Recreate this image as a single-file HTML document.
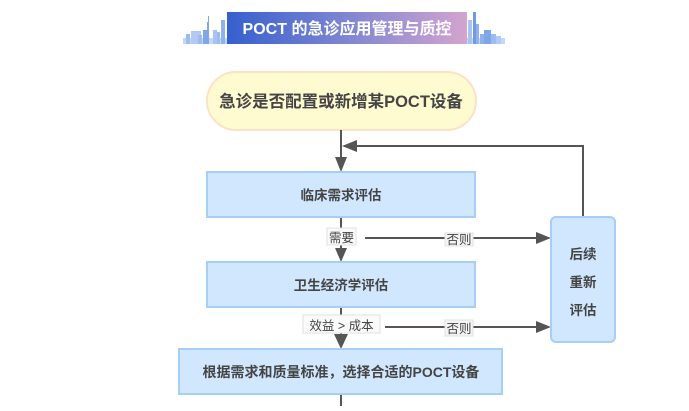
<!DOCTYPE html>
<html><head><meta charset="utf-8"><style>
html,body{margin:0;padding:0;background:#fff;}
body{width:689px;height:406px;overflow:hidden;}
svg text{font-family:"Liberation Sans","Noto Sans CJK SC",sans-serif;}
</style></head><body>
<svg width="689" height="406" viewBox="0 0 689 406" xmlns="http://www.w3.org/2000/svg">
<defs>
<linearGradient id="bg" x1="0" y1="0" x2="1" y2="0">
<stop offset="0" stop-color="#3560cf"/>
<stop offset="0.5" stop-color="#7f86d2"/>
<stop offset="1" stop-color="#d3a4cf"/>
</linearGradient>
</defs>
<!-- skyline left -->
<g fill="#9cbcef">
<rect x="183" y="38" width="44" height="6" fill="#c4d7f6"/>
<rect x="186" y="34" width="4" height="10"/>
<rect x="191" y="31" width="10" height="13" fill="#b2caf3"/>
<rect x="198" y="35" width="4" height="9"/>
<rect x="203" y="30" width="5" height="14" fill="#7ea6e8"/>
<rect x="207" y="22" width="2" height="22" fill="#7ea6e8"/>
<rect x="208" y="16" width="1" height="8" fill="#7ea6e8"/>
<rect x="213" y="30" width="4" height="14" fill="#aac4f2"/>
<rect x="217" y="32" width="3" height="12"/>
<rect x="221" y="20" width="4" height="24" fill="#8fb2ec"/>
</g>
<!-- skyline right -->
<g fill="#8fb2ec">
<rect x="467" y="38" width="38" height="6" fill="#c4d7f6"/>
<rect x="468" y="20" width="4" height="24" fill="#a9c4f2"/>
<rect x="473" y="12" width="3" height="32" fill="#6f9be6"/>
<rect x="476" y="24" width="3" height="20"/>
<rect x="480" y="34" width="4" height="10"/>
<rect x="484" y="30" width="7" height="14" fill="#7ea6e8"/>
<rect x="491" y="34" width="5" height="10" fill="#9cbcef"/>
<rect x="496" y="36" width="5" height="8" fill="#b2caf3"/>
</g>
<rect x="227" y="12" width="240" height="32" fill="url(#bg)"/>
<text x="347" y="34" text-anchor="middle" font-size="16" font-weight="bold" fill="#fff">POCT 的急诊应用管理与质控</text>

<!-- start pill -->
<rect x="207" y="72" width="269" height="58" rx="29" ry="29" fill="#fffbd1" stroke="#fbe2c6" stroke-width="2"/>
<text x="341" y="107" text-anchor="middle" font-size="16.5" font-weight="bold" fill="#444">急诊是否配置或新增某POCT设备</text>

<!-- connectors -->
<g stroke="#555" stroke-width="2" fill="none">
<line x1="341" y1="130" x2="341" y2="160"/>
<polyline points="583,217 583,146 354,146"/>
<line x1="341" y1="218" x2="341" y2="250"/>
<line x1="365" y1="238" x2="538" y2="238"/>
<line x1="341" y1="307" x2="341" y2="337"/>
<line x1="385" y1="327" x2="538" y2="327"/>
<line x1="341" y1="394" x2="341" y2="406"/>
</g>
<g fill="#555">
<polygon points="341,172 335,157 347,157"/>
<polygon points="342,146 357,140 357,152"/>
<polygon points="341,262 335,248 347,248"/>
<polygon points="341,349 334,334 348,334"/>
<polygon points="551,238 536,232 536,244"/>
<polygon points="551,327 536,321 536,333"/>
</g>

<!-- boxes -->
<rect x="207" y="172" width="268" height="45" fill="#d1e7fe" stroke="#a6cef6" stroke-width="2"/>
<text x="341" y="200" text-anchor="middle" font-size="13.5" font-weight="bold" fill="#444">临床需求评估</text>
<rect x="207" y="262" width="268" height="45" fill="#d1e7fe" stroke="#a6cef6" stroke-width="2"/>
<text x="341" y="290" text-anchor="middle" font-size="13.5" font-weight="bold" fill="#444">卫生经济学评估</text>
<rect x="179" y="349" width="323" height="45" fill="#d1e7fe" stroke="#a6cef6" stroke-width="2"/>
<text x="341" y="377" text-anchor="middle" font-size="14" font-weight="bold" fill="#444">根据需求和质量标准，选择合适的POCT设备</text>
<rect x="551" y="217" width="64" height="125" rx="5" ry="5" fill="#d1e7fe" stroke="#a6cef6" stroke-width="2"/>
<text x="583" y="259" text-anchor="middle" font-size="13.5" font-weight="bold" fill="#444">后续</text>
<text x="583" y="287" text-anchor="middle" font-size="13.5" font-weight="bold" fill="#444">重新</text>
<text x="583" y="315" text-anchor="middle" font-size="13.5" font-weight="bold" fill="#444">评估</text>

<!-- labels -->
<rect x="327" y="228" width="29" height="17" fill="#fafafa" stroke="#e2e2e2" stroke-width="1"/>
<text x="341.5" y="242" text-anchor="middle" font-size="12.5" fill="#444">需要</text>
<rect x="445" y="233" width="28" height="13" fill="#f4f4f4" stroke="#e2e2e2" stroke-width="1"/>
<text x="459" y="244" text-anchor="middle" font-size="12.5" fill="#444">否则</text>
<rect x="303" y="315" width="77" height="18" fill="#fafafa" stroke="#e2e2e2" stroke-width="1"/>
<text x="341.5" y="330" text-anchor="middle" font-size="12.5" fill="#444">效益 &gt; 成本</text>
<rect x="445" y="320" width="28" height="16" fill="#f4f4f4" stroke="#e2e2e2" stroke-width="1"/>
<text x="459" y="333" text-anchor="middle" font-size="12.5" fill="#444">否则</text>
</svg>
</body></html>
